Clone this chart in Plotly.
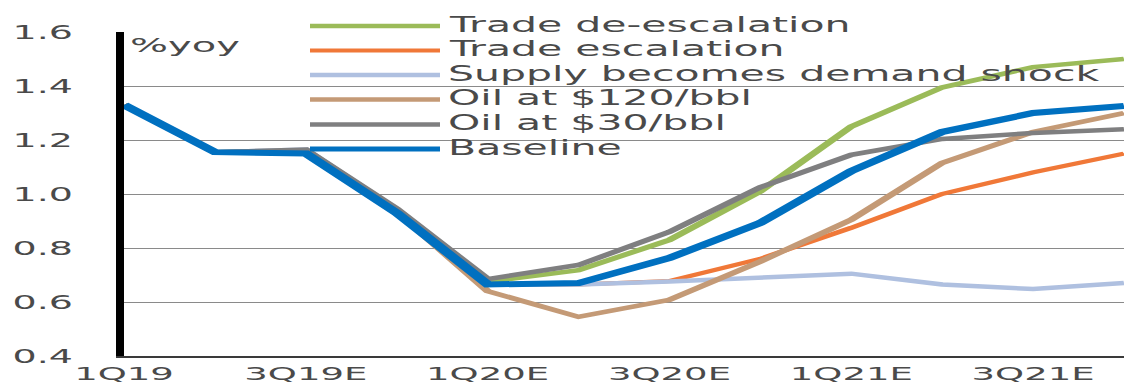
import plotly.graph_objects as go

# Quarterly forecast horizon (% yoy)
quarters = ["1Q19", "2Q19", "3Q19E", "4Q19E", "1Q20E", "2Q20E",
            "3Q20E", "4Q20E", "1Q21E", "2Q21E", "3Q21E", "4Q21E"]
tick_labels = ["1Q19", "3Q19E", "1Q20E", "3Q20E", "1Q21E", "3Q21E"]

trade_deescalation = [1.33, 1.155, 1.16, 0.94, 0.675, 0.718, 0.83, 1.01, 1.25, 1.395, 1.47, 1.50]
trade_escalation = [1.33, 1.155, 1.16, 0.94, 0.665, 0.665, 0.678, 0.76, 0.875, 1.00, 1.08, 1.15]
supply_demand_shock = [1.33, 1.155, 1.165, 0.94, 0.665, 0.665, 0.676, 0.69, 0.705, 0.665, 0.648, 0.67]
oil_120 = [1.33, 1.155, 1.16, 0.935, 0.64, 0.545, 0.608, 0.75, 0.905, 1.115, 1.23, 1.30]
oil_30 = [1.33, 1.155, 1.165, 0.945, 0.685, 0.737, 0.86, 1.025, 1.145, 1.204, 1.226, 1.24]
baseline = [1.33, 1.155, 1.15, 0.93, 0.665, 0.67, 0.763, 0.893, 1.085, 1.23, 1.30, 1.326]

series = [
    ("Trade de-escalation", trade_deescalation, "#9BBB59", 4.5),
    ("Trade escalation", trade_escalation, "#F07838", 4.0),
    ("Supply becomes demand shock", supply_demand_shock, "#AFC0E0", 4.5),
    ("Oil at $120/bbl", oil_120, "#C49A76", 4.5),
    ("Oil at $30/bbl", oil_30, "#7F7F80", 4.5),
    ("Baseline", baseline, "#0070C0", 6.0),
]

# Canvas is laid out narrow and widened by a horizontal scale on the page
STRETCH = 2.0
FIG_W, FIG_H = 563, 385
M_L, M_R, M_T, M_B = 62, 1, 32, 29
PLOT_W = FIG_W - M_L - M_R
PLOT_H = FIG_H - M_T - M_B
FONT = "DejaVu Sans"
TEXT = "#4a4a4a"


def px_x(px):
    return (px - M_L) / PLOT_W


def px_y(py):
    return (FIG_H - M_B - py) / PLOT_H


fig = go.Figure()
for name, values, color, width in series:
    fig.add_trace(go.Scatter(
        x=quarters, y=values, mode="lines", name=name,
        line=dict(color=color, width=width),
        showlegend=False,
    ))

# Hand-drawn key: long line swatches with labels beside them
key_rows = [26, 50.5, 75, 99.5, 124.5, 149]
for (name, _, color, width), row in zip(series, key_rows):
    fig.add_shape(type="line", xref="paper", yref="paper",
                  x0=px_x(155), x1=px_x(220), y0=px_y(row), y1=px_y(row),
                  line=dict(color=color, width=min(width, 5)))
    fig.add_annotation(text=name, xref="paper", yref="paper",
                       x=px_x(222), y=px_y(row - 1.5),
                       xanchor="left", yanchor="middle", showarrow=False,
                       font=dict(family=FONT, size=20.5, color=TEXT))

fig.add_annotation(text="%yoy", xref="paper", yref="paper",
                   x=px_x(63), y=px_y(45), xanchor="left", yanchor="middle",
                   showarrow=False, font=dict(family=FONT, size=20, color=TEXT))

fig.update_layout(
    width=FIG_W, height=FIG_H,
    margin=dict(l=M_L, r=M_R, t=M_T, b=M_B),
    paper_bgcolor="white", plot_bgcolor="white",
    font=dict(family=FONT, color=TEXT),
)
fig.update_xaxes(
    type="category", range=[0, len(quarters) - 1],
    tickmode="array", tickvals=tick_labels, ticktext=tick_labels,
    tickfont=dict(family=FONT, size=18.5, color=TEXT),
    showgrid=False, showline=True, linecolor="#3a3a3a", linewidth=2,
    ticks="", ticklabelstandoff=0, automargin=False,
)
fig.update_yaxes(
    range=[0.4, 1.6], tickmode="array",
    tickvals=[0.4, 0.6, 0.8, 1.0, 1.2, 1.4, 1.6],
    ticktext=["0.4", "0.6", "0.8", "1.0", "1.2", "1.4", "1.6"],
    tickfont=dict(family=FONT, size=19, color=TEXT),
    showgrid=True, gridcolor="#8a8a8a", gridwidth=1,
    showline=True, linecolor="#000000", linewidth=3.5,
    zeroline=False, ticks="", ticklabelstandoff=18, automargin=False,
)

widen = (
    "var d=document.getElementById('{plot_id}');"
    "d.style.transformOrigin='0 0';"
    "d.style.transform='scaleX(%s)';" % STRETCH
)
fig.write_html("out.html", post_script=widen)
